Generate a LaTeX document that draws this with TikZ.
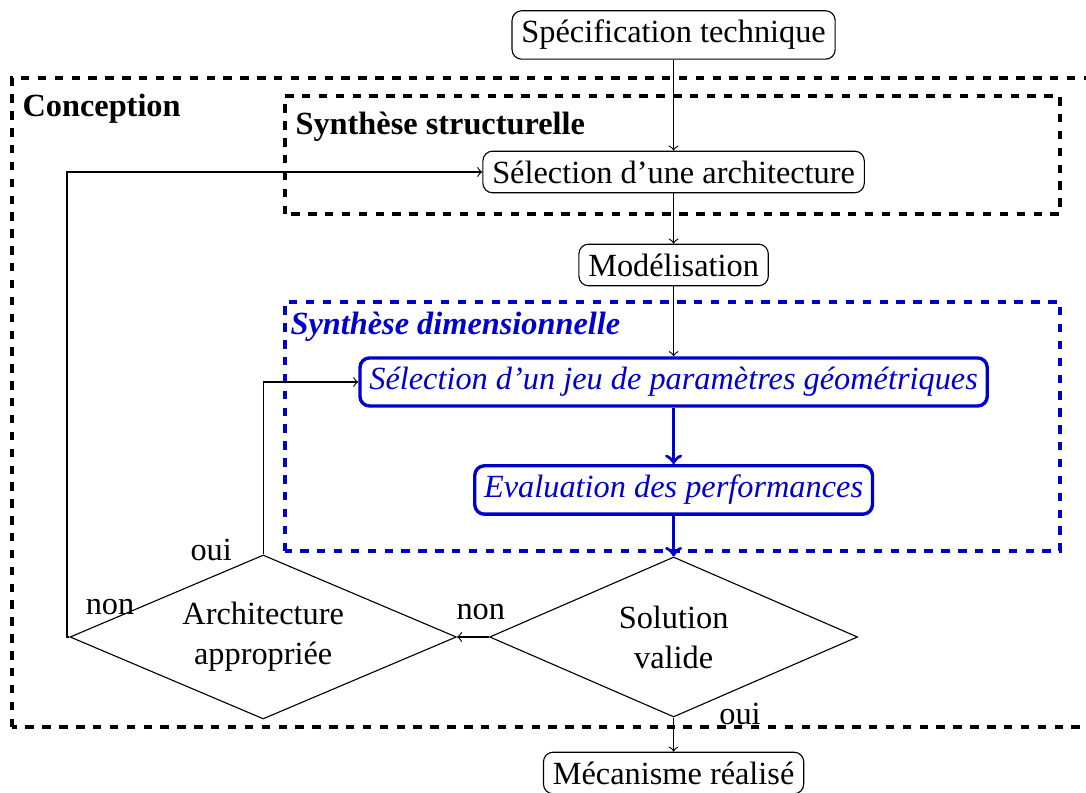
\documentclass[tikz,border=0pt]{standalone}
\usepackage{fontspec}
\setmainfont{Liberation Serif}
\usetikzlibrary{shapes.geometric}
\definecolor{dimblue}{RGB}{0,0,205}
\newcommand{\diagfont}{\fontsize{11.5pt}{14.2pt}\selectfont}
\begin{document}
\begin{tikzpicture}[>=to]
\tikzset{
task node/.style={draw,rounded corners=1.2mm,font=\diagfont},
blue node/.style={task node,draw=dimblue,very thick,text=dimblue,font=\diagfont\itshape},
test node/.style={diamond,draw,aspect=2.35,align=center,inner sep=0pt,font=\diagfont},
frame/.style={dashed,very thick},
frame label/.style={anchor=west,inner sep=0pt,font=\diagfont\bfseries},
answer/.style={font=\diagfont}
}
\useasboundingbox (0,0) rectangle (13.575,9.9125);

\draw[frame] (0.15,0.825) rectangle (14,8.9375);
\draw[frame] (3.5625,7.2375) rectangle (13.25,8.7125);
\draw[frame,dimblue] (3.5625,3.025) rectangle (13.25,6.1375);
\node[frame label] (concep) at (0.275,8.55) {Conception};
\node[frame label] (struct) at (3.6875,8.325) {Synthèse structurelle};
\node[frame label,text=dimblue,font=\diagfont\bfseries\itshape] (dimens) at (3.625,5.825) {Synthèse dimensionnelle};

\node[task node] (spec) at (8.42,9.475) {Spécification technique};
\node[task node] (selarch) at (8.42,7.7625) {Sélection d’une architecture};
\node[task node] (model) at (8.42,6.6) {Modélisation};
\node[blue node] (seljeu) at (8.42,5.1375) {Sélection d’un jeu de paramètres géométriques};
\node[blue node] (eval) at (8.42,3.7875) {Evaluation des performances};
\node[test node,minimum width=4.6cm,minimum height=2cm] (sol) at (8.42,1.95) {Solution\\valide};
\node[test node,minimum width=4.83cm,minimum height=2.05cm] (arch) at (3.29,1.95) {Architecture\\appropriée};
\node[task node] (meca) at (8.42,0.25) {Mécanisme réalisé};

\draw[->] (spec) -- (selarch);
\draw[->] (selarch) -- (model);
\draw[->] (model) -- (seljeu);
\draw[->,dimblue,very thick] (seljeu) -- (eval);
\draw[->,dimblue,very thick] (eval) -- (sol);
\draw[->] (sol) -- (meca);
\draw[->] (sol) -- (arch);
\draw[->] (arch.north) |- (seljeu.west);
\draw[->] (arch.west) -- ++(-0.03,0) |- (selarch.west);

\node[answer] (oui1) at (2.64,3.04) {oui};
\node[answer] (non1) at (1.375,2.325) {non};
\node[answer] (non2) at (6.01,2.26) {non};
\node[answer] (oui2) at (9.25,0.99) {oui};
\end{tikzpicture}
\end{document}
